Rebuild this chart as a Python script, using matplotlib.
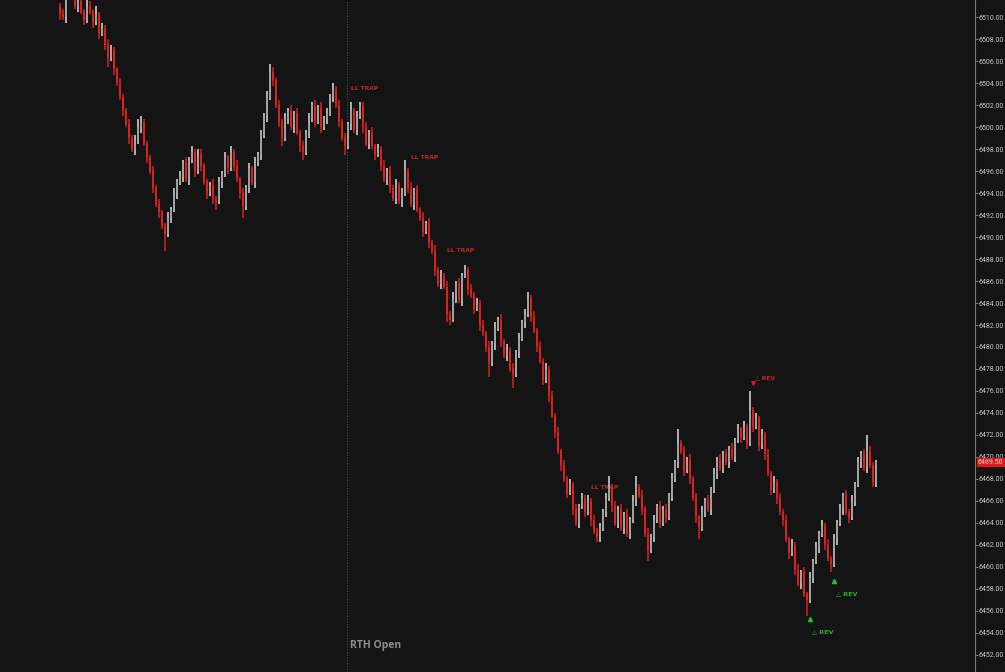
import matplotlib.pyplot as plt
import matplotlib.transforms as mtransforms
import numpy as np

# ---- data ----
first_open = 6511.0
closes = [
    6510.25, 6510.0, 6512.5, 6513.0, 6512.75, 6511.0, 6511.5, 6510.5, 6509.75, 6511.0,
    6510.5, 6509.5, 6510.25, 6508.5, 6509.0, 6507.5, 6506.25, 6507.0, 6505.25, 6504.0,
    6502.75, 6501.5, 6500.25, 6499.0, 6498.0, 6498.75, 6500.0, 6500.5, 6498.5, 6497.25,
    6496.0, 6494.5, 6493.0, 6492.25, 6491.0, 6490.25, 6491.75, 6492.5, 6494.0, 6495.0,
    6495.5, 6496.75, 6495.25, 6497.0, 6497.75, 6496.0, 6497.5, 6496.5, 6495.0, 6494.0,
    6494.75, 6493.5, 6493.25, 6495.0, 6495.75, 6497.25, 6496.25, 6497.75, 6496.5, 6495.25,
    6494.0, 6492.75, 6494.5, 6496.25, 6495.0, 6496.75, 6497.5, 6499.25, 6501.0, 6502.75,
    6505.0, 6504.25, 6502.0, 6500.5, 6499.0, 6500.75, 6501.5, 6500.0, 6501.25, 6499.5,
    6498.25, 6497.75, 6499.5, 6500.75, 6502.0, 6500.5, 6501.75, 6500.0, 6500.75, 6501.25,
    6502.75, 6503.5, 6502.0, 6500.5, 6499.0, 6498.25, 6500.25, 6501.5, 6499.75, 6501.0,
    6502.0, 6500.0, 6498.5, 6499.5, 6498.25, 6497.5, 6498.0, 6496.5, 6495.25, 6496.0,
    6494.5, 6493.5, 6494.75, 6493.25, 6494.0, 6496.0, 6494.5, 6493.0, 6494.25, 6492.5,
    6491.75, 6490.5, 6491.25, 6489.5, 6488.75, 6487.0, 6485.75, 6486.5, 6485.5, 6483.0,
    6482.5, 6484.5, 6485.75, 6484.25, 6486.5, 6487.0, 6485.25, 6484.75, 6483.5, 6484.0,
    6482.0, 6481.25, 6480.0, 6478.5, 6480.25, 6481.75, 6482.5, 6480.5, 6479.25, 6479.75,
    6478.0, 6477.5, 6479.5, 6480.75, 6482.25, 6483.0, 6484.5, 6482.75, 6481.5, 6480.0,
    6478.75, 6477.0, 6478.0, 6475.5, 6473.75, 6472.25, 6470.5, 6469.25, 6468.0, 6466.75,
    6467.5, 6465.25, 6464.0, 6465.5, 6466.25, 6465.0, 6466.0, 6464.25, 6463.25, 6462.75,
    6463.5, 6465.0, 6466.25, 6467.25, 6465.5, 6464.0, 6465.25, 6463.5, 6464.75, 6463.0,
    6464.25, 6466.0, 6467.25, 6466.5, 6465.25, 6463.0, 6461.5, 6462.75, 6464.25, 6465.5,
    6464.0, 6465.25, 6464.5, 6466.5, 6468.0, 6469.5, 6471.25, 6470.5, 6468.75, 6469.75,
    6468.0, 6466.25, 6464.5, 6463.5, 6465.0, 6466.0, 6465.25, 6467.0, 6468.5, 6469.75,
    6469.0, 6470.25, 6469.5, 6470.75, 6470.0, 6471.5, 6472.5, 6471.75, 6472.75, 6471.25,
    6474.25, 6472.75, 6473.5, 6471.0, 6472.0, 6470.25, 6468.5, 6467.0, 6467.75, 6466.25,
    6465.0, 6464.25, 6462.5, 6461.25, 6462.0, 6459.75, 6458.5, 6459.5, 6457.5, 6457.0,
    6459.0, 6460.5, 6461.75, 6463.0, 6463.75, 6462.0, 6460.75, 6460.25, 6462.5, 6464.0,
    6465.25, 6466.5, 6465.0, 6464.5, 6466.0, 6467.5, 6469.5, 6470.25, 6469.0, 6470.5,
    6469.25, 6467.75, 6469.5,
]
# wick lengths beyond the body, in ticks of 0.25
upper_ticks = [
    1, 2, 1, 2, 1, 2, 1, 2, 1, 3,
    2, 1, 3, 1, 2, 1, 2, 2, 1, 1,
    2, 1, 1, 2, 1, 2, 3, 2, 1, 1,
    1, 2, 1, 2, 1, 1, 2, 1, 2, 1,
    2, 1, 2, 1, 2, 1, 2, 2, 1, 1,
    1, 2, 1, 2, 1, 2, 1, 2, 1, 2,
    1, 2, 1, 2, 1, 2, 1, 2, 1, 2,
    3, 2, 1, 2, 1, 2, 1, 2, 1, 2,
    1, 2, 1, 2, 1, 2, 1, 2, 1, 2,
    1, 2, 1, 2, 1, 2, 1, 3, 1, 2,
    1, 1, 2, 1, 2, 1, 2, 1, 2, 1,
    2, 1, 2, 1, 2, 4, 1, 2, 1, 2,
    1, 2, 1, 2, 1, 2, 1, 2, 1, 2,
    1, 2, 1, 2, 1, 2, 1, 2, 1, 2,
    1, 2, 1, 2, 1, 2, 1, 2, 1, 2,
    1, 2, 1, 2, 1, 2, 2, 1, 2, 1,
    2, 1, 2, 1, 2, 1, 2, 1, 2, 1,
    2, 1, 2, 1, 2, 1, 2, 1, 2, 1,
    2, 1, 2, 4, 1, 2, 1, 2, 1, 2,
    1, 2, 4, 1, 2, 1, 2, 1, 2, 1,
    2, 1, 2, 1, 2, 1, 5, 1, 2, 1,
    2, 1, 2, 1, 2, 1, 2, 1, 2, 1,
    2, 1, 2, 1, 2, 1, 2, 1, 2, 1,
    7, 1, 2, 1, 2, 1, 2, 1, 2, 1,
    2, 1, 2, 1, 2, 1, 2, 1, 2, 1,
    2, 1, 2, 1, 2, 1, 2, 1, 2, 1,
    2, 1, 2, 1, 2, 1, 2, 1, 2, 6, 2, 1, 1,
]
lower_ticks = [
    2, 1, 2, 1, 2, 1, 2, 1, 2, 1,
    1, 2, 1, 2, 1, 2, 3, 1, 2, 1,
    1, 2, 1, 2, 1, 2, 1, 2, 1, 2,
    1, 2, 1, 2, 1, 6, 1, 2, 1, 2,
    1, 2, 1, 2, 1, 2, 1, 2, 1, 2,
    1, 2, 3, 1, 2, 1, 2, 1, 2, 1,
    2, 4, 1, 2, 1, 2, 1, 2, 1, 2,
    1, 2, 1, 2, 3, 1, 2, 1, 2, 1,
    2, 3, 1, 2, 1, 2, 1, 2, 1, 2,
    1, 2, 1, 2, 1, 3, 1, 2, 1, 2,
    1, 2, 1, 2, 1, 2, 1, 2, 1, 2,
    2, 1, 2, 1, 2, 1, 2, 1, 2, 1,
    1, 2, 1, 2, 1, 2, 1, 2, 1, 3,
    2, 1, 2, 1, 2, 1, 2, 1, 2, 1,
    2, 1, 2, 5, 1, 2, 1, 2, 1, 2,
    1, 5, 1, 2, 1, 2, 1, 2, 1, 2,
    1, 2, 1, 2, 1, 2, 1, 2, 1, 2,
    1, 2, 1, 2, 1, 2, 1, 2, 1, 2,
    2, 1, 2, 1, 2, 1, 2, 1, 2, 1,
    2, 1, 2, 1, 2, 1, 4, 1, 2, 1,
    2, 1, 2, 1, 2, 1, 2, 1, 2, 1,
    2, 1, 2, 4, 1, 2, 1, 2, 1, 2,
    1, 2, 1, 2, 1, 2, 1, 2, 1, 2,
    1, 2, 1, 2, 1, 2, 1, 2, 1, 2,
    1, 2, 1, 2, 1, 2, 1, 2, 1, 6,
    1, 2, 1, 2, 1, 2, 1, 3, 1, 2,
    1, 2, 1, 2, 1, 2, 1, 2, 1, 2, 1, 2, 2,
]

# signal labels: (bar index, price)
trap_bars = [97, 117, 129, 177]
trap_prices = [6503.5, 6497.25, 6488.75, 6467.25]
rev_short_bar, rev_short_price = 231, 6476.75
rev_long_bars = [250, 258]
rev_long_prices = [6455.25, 6458.75]
rth_open_bar = 95.7
last_price = 6469.50
price_ticks = np.arange(6452, 6511, 2)

# ---- build candles ----
closes = np.array(closes)
opens = np.concatenate([[first_open], closes[:-1]])
highs = np.maximum(opens, closes) + np.array(upper_ticks) * 0.25
lows = np.minimum(opens, closes) - np.array(lower_ticks) * 0.25
idx = np.arange(len(closes))
up = closes >= opens

bg = '#141414'
red = '#dc1f1f'
body_gray = '#a0a0a0'
wick_gray = '#dcdcdc'

fig = plt.figure(figsize=(10.05, 6.72), dpi=100, facecolor=bg)
ax = fig.add_axes([0, 0, 975 / 1005, 1])
ax.set_facecolor(bg)

wick_colors = [wick_gray if u else red for u in up]
body_colors = [body_gray if u else red for u in up]
ax.vlines(idx, lows, highs, colors=wick_colors, linewidth=1.1, zorder=3)
heights = np.maximum(np.abs(closes - opens), 0.15)
ax.bar(idx, heights, bottom=np.minimum(opens, closes), width=0.95,
       color=body_colors, linewidth=0, zorder=4)

# RTH open marker
ax.axvline(rth_open_bar, color='#4c4c4c', linestyle=(0, (1, 1.5)), linewidth=0.8, zorder=1)
trans = mtransforms.blended_transform_factory(ax.transData, ax.transAxes)
ax.text(rth_open_bar + 1, 0.04, 'RTH Open', transform=trans, color='#8c8c8c',
        fontsize=7.5, fontweight='bold', family='Open Sans', va='center', ha='left')

# signal labels
for b, p in zip(trap_bars, trap_prices):
    ax.text(b, p, 'LL TRAP', color='#c42626', fontsize=4.3, fontweight='bold',
            va='center', ha='left', zorder=2)
ax.plot(rev_short_bar, rev_short_price, marker='v', markersize=2.5, color='#d02020',
        linestyle='none', zorder=5)
ax.text(rev_short_bar + 0.8, rev_short_price + 0.45, '△ REV', color='#c42626', fontsize=4.3,
        fontweight='bold', va='center', ha='left', zorder=5)
for b, p in zip(rev_long_bars, rev_long_prices):
    ax.plot(b, p, marker='^', markersize=3, color='#22c02a', linestyle='none', zorder=5)
    ax.text(b + 0.7, p - 1.15, '△ REV', color='#22b02a', fontsize=4.6,
            fontweight='bold', va='center', ha='left', zorder=5)

# price axis
ax.set_xlim(-20, 305)
ax.set_ylim(6450.45, 6511.55)
ax.set_xticks([])
ax.yaxis.tick_right()
ax.set_yticks(price_ticks)
ax.set_yticklabels([f'{v:.2f}' for v in price_ticks], family='Roboto')
ax.tick_params(axis='y', colors='#8a8a8a', labelcolor='#c8c8c8', labelsize=5.0,
               length=2, width=0.6, pad=0.5)
for side in ['top', 'bottom', 'left']:
    ax.spines[side].set_visible(False)
ax.spines['right'].set_color('#7a7a7a')
ax.spines['right'].set_linewidth(0.8)

# last price box
ax.text(1.003, last_price, f'{last_price:.2f}',
        transform=mtransforms.blended_transform_factory(ax.transAxes, ax.transData),
        color='#f2d0d0', fontsize=5.0, family='Roboto', va='center', ha='left', zorder=10,
        bbox=dict(boxstyle='square,pad=0.2', facecolor='#e01818', edgecolor='none'),
        clip_on=False)

fig.savefig('out.png', dpi=100, facecolor=bg)
